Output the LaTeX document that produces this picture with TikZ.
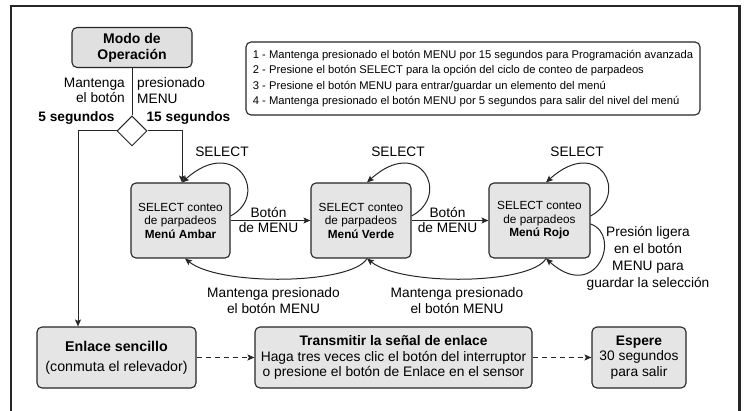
\documentclass[tikz,border=0pt]{standalone}
\usepackage{fontspec}
\setmainfont{Liberation Sans}
\usetikzlibrary{arrows.meta,shapes.geometric}
\begin{document}
\begin{tikzpicture}[x=1pt,y=-1pt,
  box/.style={draw=black!85, line width=1.1pt, fill=black!10, rounded corners=5pt, inner sep=0pt, align=center},
  arr/.style={-{Stealth[length=7pt,width=6pt,inset=1.5pt]}, line width=1pt, draw=black!85},
  dsh/.style={arr, dash pattern=on 5pt off 4pt},
  lbl/.style={font=\fontsize{13.7}{15.5}\selectfont, align=center, inner sep=0pt},
  blbl/.style={font=\fontsize{13.7}{15.5}\selectfont\bfseries, inner sep=0pt},
  stxt/.style={font=\fontsize{11.8}{13.5}\selectfont},
  btxt/.style={font=\fontsize{13.8}{15.5}\selectfont}]
\useasboundingbox (0,0) rectangle (746,411);
% frame
\draw[line width=2.5pt, black!85] (11,411) -- (11,6) -- (739.5,6) -- (739.5,411);

% top
\node[box, fill=black!12, minimum width=120pt, minimum height=40pt, font=\fontsize{14}{16}\selectfont\bfseries] (mode) at (132,47.5) {Modo de\\Operación};
\node[box, fill=white, minimum width=454pt, minimum height=73pt, align=left, font=\fontsize{11.2}{15.3}\selectfont] (info) at (473,78.5)
 {1 - Mantenga presionado el botón MENU por 15 segundos para Programación avanzada\\
  2 - Presione el botón SELECT para la opción del ciclo de conteo de parpadeos\\
  3 - Presione el botón MENU para entrar/guardar un elemento del menú\\
  4 - Mantenga presionado el botón MENU por 5 segundos para salir del nivel del menú};
\node[draw=black!85, fill=white, line width=1pt, shape=diamond, minimum width=30pt, minimum height=30pt, inner sep=0pt] (dm) at (132,131) {};
\node[lbl, anchor=east, align=right] (lm) at (125,90.5) {Mantenga\\el botón};
\node[lbl, anchor=west, align=left] (lp) at (137,90.5) {presionado\\MENU};
\node[blbl] (l5) at (76.5,118) {5 segundos};
\node[blbl] (l15) at (188.5,118) {15 segundos};

% state boxes
\node[box, stxt, minimum width=99pt, minimum height=75pt] (ambar) at (180.5,220.5) {SELECT conteo\\de parpadeos\\\textbf{Menú Ambar}};
\node[box, stxt, minimum width=100pt, minimum height=75pt] (verde) at (361,220.5) {SELECT conteo\\de parpadeos\\\textbf{Menú Verde}};
\node[box, stxt, minimum width=101pt, minimum height=75pt] (rojo) at (539.5,220.5) {SELECT conteo\\de parpadeos\\\textbf{Menú Rojo}};

% bottom boxes
\node[box, minimum width=159pt, minimum height=61pt, font=\fontsize{14.2}{20}\selectfont] (enlace) at (116.5,357.5) {\textbf{Enlace sencillo}\\(conmuta el relevador)};
\node[box, btxt, minimum width=277pt, minimum height=61pt] (trans) at (393.5,357.5) {\textbf{Transmitir la señal de enlace}\\Haga tres veces clic el botón del interruptor\\o presione el botón de Enlace en el sensor};
\node[box, btxt, minimum width=94pt, minimum height=61pt] (espere) at (639,357.5) {\textbf{Espere}\\30 segundos\\para salir};

% diamond connectors
\coordinate (c5) at (78,131);
\coordinate (c15) at ([xshift=1.5pt]ambar.north |- dm.east);
\draw[line width=1pt, black!85] (mode.south) -- (dm.north);
\draw[arr] (dm.west) -- (c5) -- (c5 |- enlace.north);
\draw[arr] (dm.east) -- (c15) -- ([xshift=1.5pt]ambar.north);

% SELECT loops
\node[lbl] (s1) at (222,152) {SELECT};
\node[lbl] (s2) at (398,152) {SELECT};
\node[lbl] (s3) at (577,152) {SELECT};
\draw[arr] ([yshift=4.5pt]ambar.east) .. controls +(40,-21) and +(53,-48) .. ([xshift=1.5pt]ambar.north);
\draw[arr] ([yshift=4.5pt]verde.east) .. controls +(40,-21) and +(53,-48) .. ([xshift=6pt]verde.north);
\draw[arr] ([yshift=4.5pt]rojo.east) .. controls +(40,-21) and +(53,-48) .. ([xshift=6.5pt]rojo.north);

% menu arrows
\draw[arr] (ambar.east) -- (verde.west);
\draw[arr] (verde.east) -- (rojo.west);
\node[lbl] (b1) at (268.5,220) {Botón\\de MENU};
\node[lbl] (b2) at (447.5,220) {Botón\\de MENU};

% return arcs
\draw[arr] ([xshift=6pt]verde.south) .. controls +(-15,26) and +(35,28) .. ([xshift=4.5pt]ambar.south);
\draw[arr] ([xshift=6.5pt]rojo.south) .. controls +(-15,26) and +(35,28) .. ([xshift=6pt]verde.south);
\node[lbl] (m1) at (273.5,300.5) {Mantenga presionado\\el botón MENU};
\node[lbl] (m2) at (457,300.5) {Mantenga presionado\\el botón MENU};

% save loop
\draw[arr] ([yshift=-3.5pt]rojo.east) .. controls +(32,11) and +(50,45) .. ([xshift=6.5pt]rojo.south);
\node[lbl, font=\fontsize{13.7}{16.8}\selectfont] (ps) at (648,258.5) {Presión ligera\\en el botón\\MENU para\\guardar la selección};

% dashed
\draw[dsh] (enlace.east) -- (trans.west);
\draw[dsh] (trans.east) -- (espere.west);
\end{tikzpicture}
\end{document}
